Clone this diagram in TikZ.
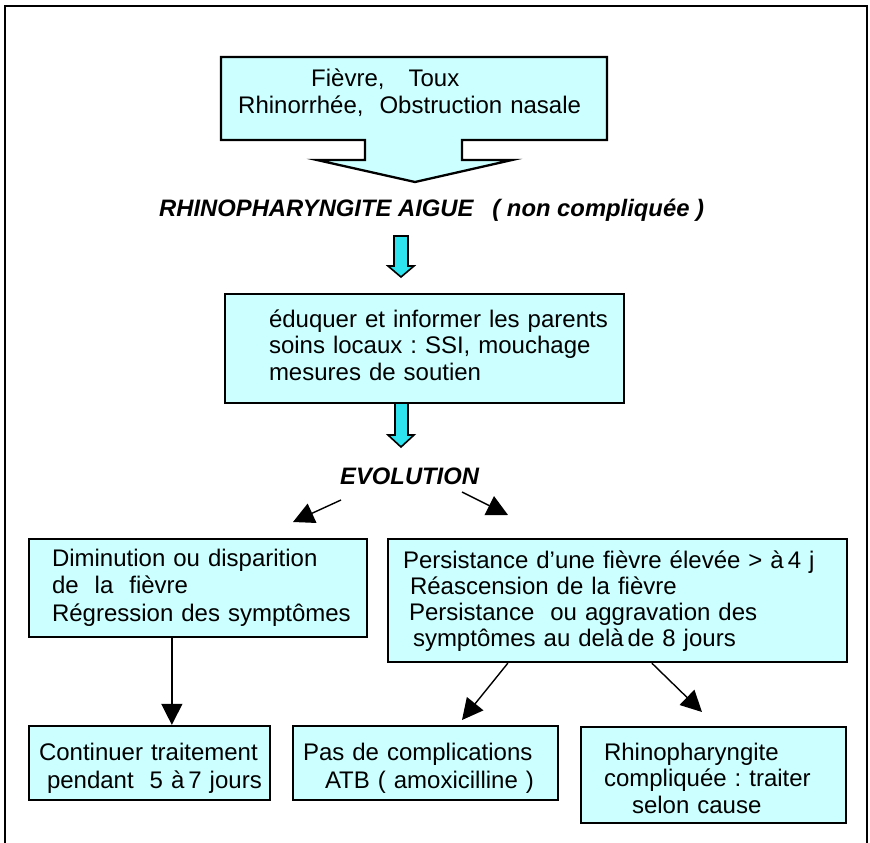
\documentclass[tikz,border=0pt]{standalone}
\usepackage{fontspec}
\setmainfont{Liberation Sans}
\frenchspacing
\usetikzlibrary{arrows.meta,calc}
\definecolor{boxfill}{HTML}{CCFFFF}
\definecolor{arrowfill}{HTML}{2EE3EE}
\tikzset{
  box/.style={draw=black, line width=2.3pt, fill=boxfill, inner sep=0pt, align=left,
    font=\fontsize{24}{28}\selectfont},
  % width, height, line pitch, left indent, downward shift of the text block
  boxtext/.style n args={5}{minimum width=#1, minimum height=#2, text width=#1,
    execute at begin node={\fontsize{24}{#3}\selectfont\leftskip=#4\relax
      \vrule width0pt height\dimexpr0.7\baselineskip+2\dimexpr#5\relax\relax depth0pt},
    execute at end node={\vrule width0pt height0pt depth0.3\baselineskip}},
  plain/.style n args={3}{text width=#1, inner sep=0pt, align=left,
    font=\fontsize{24}{28}\selectfont,
    execute at begin node={\fontsize{24}{#2}\selectfont\leftskip=#3\relax}},
  head/.style={inner sep=0pt, font=\fontsize{23.8}{28}\selectfont\bfseries\itshape},
  conn/.style={line width=1.4pt, -{Triangle[length=21pt,width=21pt]}},
  barrow/.style={draw=black, line width=1.6pt, fill=arrowfill, line join=miter},
}
\begin{document}
\begin{tikzpicture}[x=1pt,y=-1pt]
\useasboundingbox (0,0) rectangle (870,843);

% outer frame, open at the bottom of the page
\draw[line width=1.6pt] (5,850) -- (5,6) -- (867,6) -- (867,850);

% callout with the presenting signs
\draw[box] (221,57) -- (607,57) -- (607,140) -- (462,140) -- (462,160) -- (512,160)
  -- (415,182) -- (317,160) -- (365,160) -- (365,140) -- (221,140) -- cycle;
\node[plain={360pt}{27pt}{0pt}, anchor=base west] (signs) at (238,86)
  {\hspace*{73pt}Fièvre,\ \ \ Toux\\Rhinorrhée,\ \ Obstruction nasale};

% diagnosis
\node[head, anchor=base west] (dx) at (159,216.7)
  {RHINOPHARYNGITE AIGUE\hspace{19pt}( non compliquée )};

% first-line care
\node[box, boxtext={399pt}{109pt}{26.7pt}{44pt}{0pt}] (soins) at (424.5,348.5)
  {éduquer et informer les parents\\soins locaux : SSI, mouchage\\mesures de soutien};

% block arrows
\draw[barrow] (394,236) -- (408,236) -- (408,266) -- (414,266) -- (401,277)
  -- (388,266) -- (394,266) -- cycle;
\draw[barrow] (395,403) -- (408,403) -- (408,435) -- (414,435) -- (401,447)
  -- (388,435) -- (395,435) -- cycle;

\node[head, anchor=base west] (evo) at (340,484) {EVOLUTION};

% outcomes
\node[box, boxtext={338pt}{98pt}{27.5pt}{23pt}{0pt}] (better) at (198,588)
  {Diminution ou disparition\\de\ \ la\ \ fièvre\\Régression des symptômes};
\node[box, boxtext={459pt}{123pt}{26.1pt}{15pt}{2pt}] (worse) at (617.5,600.5)
  {Persistance d’une fièvre élevée > à\,4 j\\\hspace*{7pt}Réascension de la fièvre\\
   \hspace*{6pt}Persistance\ \ ou aggravation des\\\hspace*{10pt}symptômes au delà\,de 8 jours};

% management
\node[box, boxtext={241pt}{74pt}{27.6pt}{10pt}{6pt}] (cont) at (149.5,763)
  {Continuer traitement\\\hspace*{8pt}pendant\ \ 5 à\,7 jours};
\node[box, boxtext={265pt}{74pt}{27.6pt}{10pt}{6pt}] (atb) at (425.5,763)
  {Pas de complications\\\hspace*{22pt}ATB ( amoxicilline )};
\node[box, boxtext={265pt}{96pt}{26.7pt}{23pt}{6.4pt}] (compl) at (713.5,775)
  {Rhinopharyngite\\compliquée : traiter\\\hspace*{28pt}selon cause};

% connectors
\coordinate (e1s) at (341,500);
\coordinate (e1t) at (293,522);
\coordinate (e2s) at (462,492);
\coordinate (e2t) at (508,515);
\coordinate (d1) at ($(better.south west)+(144,0)$);
\coordinate (w1) at ($(worse.south west)+(121,0)$);
\coordinate (w2) at ($(worse.south west)+(265,0)$);
\coordinate (f1t) at (462,720);
\coordinate (f2t) at (702,712);
\draw[conn] (e1s) -- (e1t);
\draw[conn] (e2s) -- (e2t);
\draw[conn] (d1) -- (d1 |- cont.north);
\draw[conn] (w1) -- (f1t);
\draw[conn] (w2) -- (f2t);
\end{tikzpicture}
\end{document}
